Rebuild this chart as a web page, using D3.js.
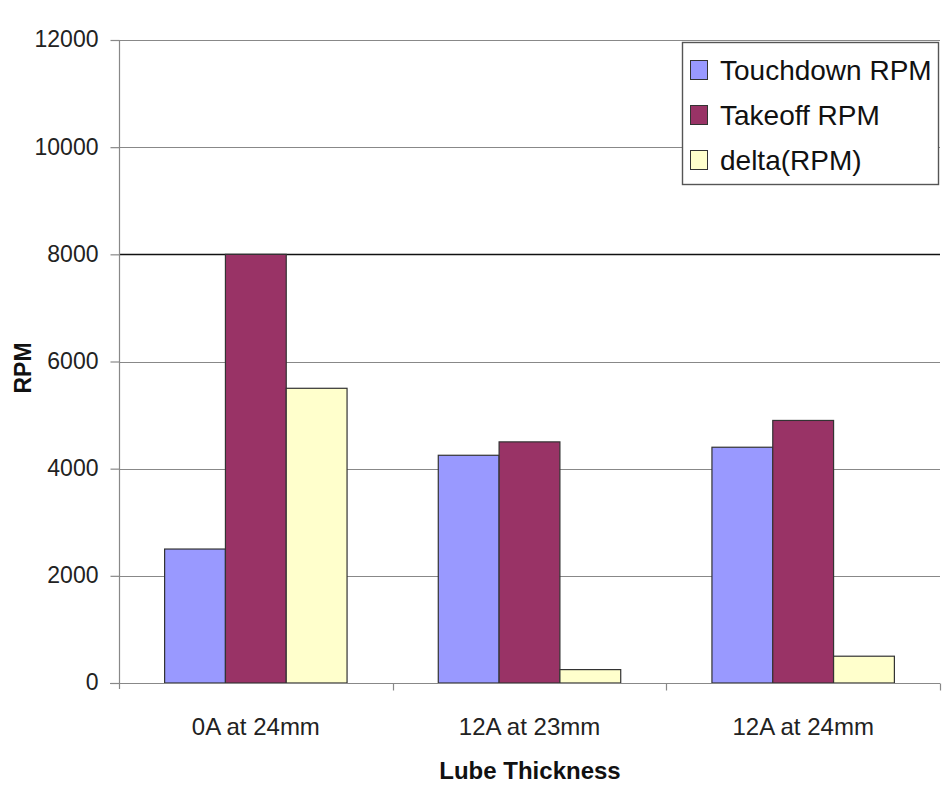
<!DOCTYPE html>
<html>
<head>
<meta charset="utf-8">
<script src="https://cdn.jsdelivr.net/npm/d3@7/dist/d3.min.js"></script>
<style>
  html, body { margin: 0; padding: 0; background: #fff; }
  svg { display: block; font-family: "Liberation Sans", Arial, sans-serif; }
</style>
</head>
<body>
<svg id="chart" width="949" height="789"></svg>
<script>
// Lube thickness test cases
const categories = ["0A at 24mm", "12A at 23mm", "12A at 24mm"];
const seriesNames = ["Touchdown RPM", "Takeoff RPM", "delta(RPM)"];
const touchdownRPM = [2500, 4250, 4400];
const takeoffRPM = [8000, 4500, 4900];
const deltaRPM = [5500, 250, 500];
const yTicks = [0, 2000, 4000, 6000, 8000, 10000, 12000];
const seriesColors = ["#9999ff", "#993366", "#ffffcc"];

const series = [touchdownRPM, takeoffRPM, deltaRPM];

const svg = d3.select("#chart");
const plot = { left: 119, right: 940, top: 40, bottom: 683 };

const x0 = d3.scaleBand()
  .domain(categories)
  .range([plot.left, plot.right])
  .paddingInner(0).paddingOuter(0);

// three bars per group, gap equal to 1.5 bar widths
const x1 = d3.scaleBand()
  .domain(seriesNames)
  .range([0, x0.bandwidth()])
  .paddingInner(0)
  .paddingOuter(0.75);

const y = d3.scaleLinear().domain([0, 12000]).range([plot.bottom, plot.top]);

// horizontal gridlines
svg.append("g")
  .selectAll("line")
  .data(yTicks.filter(d => d > 0))
  .join("line")
  .attr("x1", plot.left).attr("x2", plot.right)
  .attr("y1", d => Math.round(y(d)) + 0.5).attr("y2", d => Math.round(y(d)) + 0.5)
  .attr("stroke", d => d === 8000 ? "#111" : "#888")
  .attr("stroke-width", d => d === 8000 ? 1.6 : 1.2);

// y axis
const yAxis = d3.axisLeft(y).tickValues(yTicks).tickSize(9).tickPadding(12).tickFormat(d3.format("d"));
const gy = svg.append("g")
  .attr("transform", `translate(${plot.left + 0.5},0)`)
  .call(yAxis);
gy.select(".domain").attr("stroke", "#888").attr("stroke-width", 1.2)
  .attr("d", `M0,${plot.top}V${plot.bottom + 6}`);
gy.selectAll(".tick line").attr("stroke", "#888").attr("stroke-width", 1.2);
gy.selectAll(".tick text")
  .attr("font-size", 23).attr("fill", "#222")
  .attr("dy", "0.3em")
  .attr("font-family", "Liberation Sans, Arial, sans-serif");

// bars
const groups = svg.append("g")
  .selectAll("g")
  .data(categories)
  .join("g")
  .attr("transform", d => `translate(${x0(d)},0)`);

groups.selectAll("rect")
  .data((c, i) => seriesNames.map((s, j) => ({ s, j, v: series[j][i] })))
  .join("rect")
  .attr("x", d => x1(d.s))
  .attr("width", x1.bandwidth())
  .attr("y", d => y(d.v))
  .attr("height", d => y(0) - y(d.v))
  .attr("fill", d => seriesColors[d.j])
  .attr("stroke", "#333")
  .attr("stroke-width", 1.2);

// x axis baseline and category ticks
const xAxis = d3.axisBottom(x0).tickSize(0).tickPadding(0);
const gx = svg.append("g")
  .attr("transform", `translate(0,${plot.bottom + 0.5})`)
  .call(xAxis);
gx.select(".domain").attr("stroke", "#888").attr("stroke-width", 1.2)
  .attr("d", `M${plot.left - 9},0H${plot.right}`);
gx.selectAll(".tick text")
  .attr("y", 51).attr("dy", null)
  .attr("font-size", 24).attr("fill", "#222")
  .attr("font-family", "Liberation Sans, Arial, sans-serif");

const boundaries = categories.map(c => x0(c) + x0.bandwidth());
gx.append("g").selectAll("line")
  .data(boundaries)
  .join("line")
  .attr("x1", d => Math.round(d) + 0.5).attr("x2", d => Math.round(d) + 0.5)
  .attr("y1", 0).attr("y2", 7)
  .attr("stroke", "#888").attr("stroke-width", 1.2);

// axis titles
svg.append("text")
  .attr("x", 530).attr("y", 779)
  .attr("text-anchor", "middle")
  .attr("font-size", 24).attr("font-weight", "bold").attr("fill", "#111")
  .text("Lube Thickness");

svg.append("text")
  .attr("transform", "translate(31,368) rotate(-90)")
  .attr("text-anchor", "middle")
  .attr("font-size", 23).attr("font-weight", "bold").attr("fill", "#111")
  .text("RPM");

// legend
const legend = svg.append("g").attr("transform", "translate(682,42)");
legend.append("rect")
  .attr("x", 0.5).attr("y", 0.5).attr("width", 256).attr("height", 142)
  .attr("fill", "#fff").attr("stroke", "#555").attr("stroke-width", 1.4);

const items = legend.selectAll("g.item")
  .data(seriesNames)
  .join("g")
  .attr("class", "item")
  .attr("transform", (d, i) => `translate(0,${28 + i * 45})`);

items.append("rect")
  .attr("x", 8.5).attr("y", -9.5).attr("width", 17).attr("height", 19)
  .attr("fill", (d, i) => seriesColors[i])
  .attr("stroke", "#333").attr("stroke-width", 1);

items.append("text")
  .attr("x", 38).attr("y", 10)
  .attr("font-size", 28).attr("fill", "#111")
  .text(d => d);
</script>
</body>
</html>
